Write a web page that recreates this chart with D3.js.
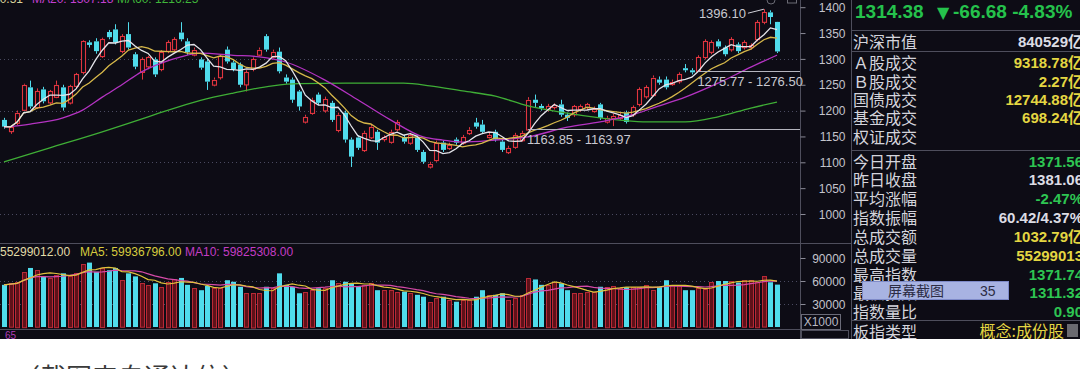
<!DOCTYPE html>
<html>
<head>
<meta charset="utf-8">
<script src="https://cdn.jsdelivr.net/npm/d3@7/dist/d3.min.js"></script>
<style>
html,body{margin:0;padding:0;background:#ffffff;overflow:hidden;}
svg{display:block;}
</style>
</head>
<body>
<svg id="chart" width="1080" height="369"></svg>
<script>
// ---------------- DATA ----------------
const opens = [1182,1160,1177,1202,1245,1206,1241,1215,1227,1245,
1215,1247,1274,1332,1334,1305,1352,1357,1315,1348,
1309,1274,1285,1299,1280,1315,1318,1351,1334,1309,
1299,1295,1251,1264,1318,1293,1289,1250,1280,1309,
1344,1305,1314,1264,1260,1237,1179,1196,1231,1200,
1215,1163,1196,1144,1148,1124,1149,1159,1144,1140,
1163,1149,1138,1148,1120,1092,1105,1138,1128,1144,
1138,1157,1177,1173,1149,1159,1140,1120,1130,1143,
1163.97,1221,1209,1202,1206,1212,1192,1192,1202,1206,
1200,1212,1179,1186,1186,1196,1192,1212,1227,1231,
1260,1260,1252,1256,1282,1278,1276.50,1303,1313,1334,
1322,1318,1328,1322,1322,1338,1371,1390,1371.56];
const closes = [1169,1168,1196,1250,1208,1237,1218,1237,1250,1206,
1247,1270,1334,1327,1315,1338,1342,1332,1344,1322,
1285,1299,1303,1270,1313,1332,1338,1338,1313,1318,
1283,1256,1260,1305,1295,1280,1250,1274,1299,1318,
1318,1314,1276,1256,1221,1208,1188,1221,1215,1222,
1182,1192,1144,1111,1128,1157,1169,1138,1148,1159,
1177,1140,1153,1124,1101,1097,1138,1124,1134,1138,
1149,1163,1169,1159,1153,1144,1124,1128,1153,1157,
1221,1215,1205,1208,1210,1192,1186,1208,1208,1212,
1204,1186,1186,1190,1192,1178,1206,1241,1245,1264,
1254,1245,1256,1270,1278,1274,1303,1334,1332,1324,
1309,1338,1315,1332,1326,1371,1390,1381.06,1314.38];
const highs = [1186,1172,1200,1252,1258,1243,1246,1240,1258,1250,
1250,1273,1336,1336,1340,1341,1356,1367,1348,1371,
1313,1303,1306,1303,1317,1336,1342,1371,1340,1322,
1303,1299,1264,1309,1324,1297,1293,1278,1303,1322,
1348,1318,1322,1270,1264,1240,1192,1225,1235,1227,
1219,1196,1200,1148,1152,1161,1173,1163,1152,1163,
1182,1153,1157,1152,1124,1101,1142,1142,1138,1148,
1153,1168,1186,1182,1157,1163,1144,1132,1157,1161,
1226,1231,1213,1213,1214,1221,1196,1211,1212,1215,
1208,1215,1190,1194,1196,1200,1210,1245,1249,1268,
1266,1266,1260,1274,1290,1282,1307,1338,1336,1338,
1326,1342,1332,1336,1330,1375,1396.10,1394,1371.74];
const lows = [1165,1155,1172,1200,1204,1203,1214,1212,1224,1200,
1212,1243,1270,1322,1310,1302,1338,1328,1311,1318,
1280,1260,1280,1265,1276,1311,1314,1334,1308,1305,
1279,1240,1247,1260,1291,1276,1245,1237,1276,1305,
1314,1301,1272,1252,1215,1200,1175,1192,1211,1196,
1178,1158,1138,1091,1124,1120,1145,1124,1140,1136,
1160,1136,1134,1120,1097,1088,1101,1120,1124,1134,
1134,1153,1165,1155,1146,1140,1120,1116,1126,1140,
1163.85,1207,1200,1198,1202,1188,1180,1188,1198,1202,
1196,1182,1175,1170,1182,1175,1188,1208,1223,1227,
1250,1241,1248,1252,1274,1270,1275.77,1299,1309,1320,
1305,1314,1311,1318,1318,1334,1367,1367,1311.32];
// volume in units of 1000 shares (axis is X1000)
const volumes = [55000,57000,59000,72000,77000,74000,66000,64000,68000,70000,
66500,70000,82000,84000,72000,77000,74000,77000,61000,70000,
66000,57000,55000,57000,52500,59000,62500,64000,55000,51000,
48000,53500,51000,51000,61000,59000,52500,44000,45000,44000,
52500,51000,70000,55000,52500,44000,46000,48000,50500,50500,
61000,57000,59000,57000,52500,55000,57000,48000,48000,48000,
46000,46000,45000,42000,39500,33000,38000,39500,35000,33000,
35000,35000,39500,48000,42000,42000,44000,35000,37500,42000,
63500,62000,55000,55000,59000,57000,48000,44000,44000,46000,
46000,52500,52500,53500,50500,52000,52000,52500,55000,48000,
52500,61000,55000,55000,48000,48000,50500,49000,59000,60000,
60000,59500,58000,61000,61000,59000,66000,58400,55299];
// MA20 / MA60 lines (day index, value)
const ma20Day = [0,4,9,12,15,18,21,24,27,30,35,39,43,49,54,59,64,67,70,75,80,86,91,96,99,104,109,114,118];
const ma20Val = [1168,1174,1186,1201,1226,1250,1275,1292,1304,1311,1307,1304,1294,1259,1221,1182,1149,1143,1139,1143,1149,1168,1178,1192,1205,1226,1253,1284,1307.18];
const ma60Day = [0,7,15,22,30,35,41,45,54,61,65,70,75,80,85,91,99,104,109,114,118];
const ma60Val = [1101,1128,1159,1188,1220,1234,1248,1252,1253,1253,1248,1238,1228,1209,1197,1186,1178,1178,1188,1205,1216.25];

const priceTicks = [1400,1350,1300,1250,1200,1150,1100,1050,1000];
const priceGrid = [1300,1200,1100,1000];
const volTicks = [90000,60000,30000];
const volGrid = [60000,30000];

const priceLegend = ["MA10: 1340.51","MA20: 1307.18","MA60: 1216.25"];
const volLegend = ["55299012.00","MA5: 59936796.00","MA10: 59825308.00"];

const lastPrice = "1314.38", change = "-66.68", changePct = "-4.83%";
const panelLabels = ["沪深市值","Ａ股成交","Ｂ股成交","国债成交","基金成交","权证成交","今日开盘","昨日收盘","平均涨幅","指数振幅","总成交额","总成交量","最高指数","最低指数","指数量比","板指类型"];
const panelValues = ["840529亿","9318.78亿","2.27亿","12744.88亿","698.24亿","","1371.56","1381.06","-2.47%","60.42/4.37%","1032.79亿","55299013","1371.74","1311.32","0.90","概念:成份股"];
const panelKinds  = ["w","y","y","y","y","w","g","w","g","w","y","y","g","g","g","y"];
const popupTexts = ["屏幕截图","35"];
const caption = "（截图来自通达信）";

// ---------------- DRAW ----------------
const RED="#e0353f", CYAN="#50dcec", BG="#0d0c15";
const svg=d3.select("#chart");
svg.append("rect").attr("x",0).attr("y",0).attr("width",1080).attr("height",339).attr("fill",BG);
const defs=svg.append("defs");
defs.append("clipPath").attr("id","pclip").append("rect").attr("x",0).attr("y",0).attr("width",800).attr("height",243);
defs.append("clipPath").attr("id","vclip").append("rect").attr("x",0).attr("y",256).attr("width",800).attr("height",73);

const n=closes.length, days=d3.range(n);
const x=d3.scalePoint().domain(days).range([4,777]);
const y=d3.scaleLinear().domain([1000,1400]).range([214,7.2]);
const yv=d3.scaleLinear().domain([0,90000]).range([327,258]);
const px=i=>Math.round(x(i))+0.5;
const crisp=v=>Math.round(v)+0.5;

// gridlines
svg.append("g").selectAll("line").data(priceGrid).join("line")
  .attr("x1",0).attr("x2",800).attr("y1",d=>crisp(y(d))).attr("y2",d=>crisp(y(d)))
  .attr("stroke","#4a4a60").attr("stroke-dasharray","1,3");
svg.append("g").selectAll("line").data(volGrid).join("line")
  .attr("x1",0).attr("x2",800).attr("y1",d=>crisp(yv(d))).attr("y2",d=>crisp(yv(d)))
  .attr("stroke","#4a4a60").attr("stroke-dasharray","1,3");

// frame lines
const frame=svg.append("g").attr("stroke","#4e4e5c").attr("stroke-width",1);
frame.append("line").attr("x1",800.5).attr("x2",800.5).attr("y1",0).attr("y2",339);
frame.append("line").attr("x1",851.5).attr("x2",851.5).attr("y1",0).attr("y2",339);
frame.append("line").attr("x1",0).attr("x2",851).attr("y1",243.5).attr("y2",243.5);
frame.append("line").attr("x1",0).attr("x2",800).attr("y1",329.5).attr("y2",329.5);
[30.5,51.5,150.5,320.5].forEach(v=>frame.append("line").attr("x1",851).attr("x2",1080).attr("y1",v).attr("y2",v));

// axes
const fontNum="'Liberation Sans', Arial, sans-serif";
const pAxis=svg.append("g").attr("transform","translate(800.5,0)")
  .call(d3.axisRight(y).tickValues(priceTicks).tickSize(5).tickFormat(d3.format("d")));
const vAxis=svg.append("g").attr("transform","translate(800.5,0)")
  .call(d3.axisRight(yv).tickValues(volTicks).tickSize(5).tickFormat(d3.format("d")));
[pAxis,vAxis].forEach(g=>{
  g.select(".domain").remove();
  g.selectAll(".tick line").attr("stroke","#8a8a96");
  g.selectAll(".tick text").attr("x",45).attr("dy","0.35em").attr("text-anchor","end")
    .attr("fill","#c4c4cc").style("font-family",fontNum).style("font-size","12px");
});
svg.append("rect").attr("x",801.5).attr("y",314.5).attr("width",39).attr("height",15).attr("fill","none").attr("stroke","#6a6a78");
svg.append("text").attr("x",821).attr("y",326).attr("text-anchor","middle").attr("fill","#b8b8c2")
  .style("font-family",fontNum).style("font-size","12px").text("X1000");
svg.append("rect").attr("x",801.5).attr("y",330.5).attr("width",47).attr("height",8).attr("fill","none").attr("stroke","#4e4e5c");

// candles
const up=i=>closes[i]>=opens[i];
const bw=5;
const cg=svg.append("g").attr("clip-path","url(#pclip)");
const cand=cg.selectAll("g.c").data(days).join("g").attr("class","c");
cand.append("line").attr("x1",px).attr("x2",px)
  .attr("y1",i=>y(highs[i])).attr("y2",i=>y(Math.max(opens[i],closes[i])))
  .attr("stroke",i=>up(i)?RED:CYAN);
cand.append("line").attr("x1",px).attr("x2",px)
  .attr("y1",i=>y(Math.min(opens[i],closes[i]))).attr("y2",i=>y(lows[i]))
  .attr("stroke",i=>up(i)?RED:CYAN);
cand.append("rect")
  .attr("x",i=>up(i)?px(i)-2:px(i)-2.5)
  .attr("y",i=>{const t=y(Math.max(opens[i],closes[i]));return up(i)?Math.round(t)+0.5:t;})
  .attr("width",i=>up(i)?bw-1:bw)
  .attr("height",i=>Math.max(1,Math.abs(y(opens[i])-y(closes[i]))))
  .attr("fill",i=>up(i)?BG:CYAN)
  .attr("stroke",i=>up(i)?RED:"none").attr("stroke-width",1.1);

// moving averages
const movAvg=(arr,k)=>arr.map((_,i)=>d3.mean(arr.slice(Math.max(0,i-k+1),i+1)));
const ma5=movAvg(closes,5), ma10=movAvg(closes,10);
const lineIdx=d3.line().x(d=>x(d[0])).y(d=>y(d[1]));
const lineCurve=d3.line().x(d=>x(d[0])).y(d=>y(d[1])).curve(d3.curveMonotoneX);
const mg=svg.append("g").attr("clip-path","url(#pclip)").attr("fill","none").attr("stroke-width",1.3);
mg.append("path").attr("d",lineCurve(ma60Day.map((d,i)=>[d,ma60Val[i]]))).attr("stroke","#3fae36");
mg.append("path").attr("d",lineCurve(ma20Day.map((d,i)=>[d,ma20Val[i]]))).attr("stroke","#b433c2");
mg.append("path").attr("d",lineIdx(days.map(i=>[i,ma10[i]]))).attr("stroke","#d6b84a");
mg.append("path").attr("d",lineIdx(days.map(i=>[i,ma5[i]]))).attr("stroke","#e4e4ea");

// annotations
const fmt=d3.format(".2f");
const ag=svg.append("g").style("font-family",fontNum).style("font-size","13px").attr("fill","#c8c8d0");
const hl=[[80,lows[80],opens[80]],[106,lows[106],opens[106]]];
hl.forEach(([i,a,b])=>{
  const yy=crisp(y((a+b)/2));
  ag.append("line").attr("x1",x(i)).attr("x2",800).attr("y1",yy).attr("y2",yy).attr("stroke","#b4b4be");
  ag.append("text").attr("x",x(i)-1).attr("y",yy+14).text(fmt(a)+" - "+fmt(b));
});
const hiIdx=d3.maxIndex(highs);
ag.append("text").attr("x",x(hiIdx)-18).attr("y",y(highs[hiIdx])+9).attr("text-anchor","end").text(fmt(highs[hiIdx]));
ag.append("line").attr("x1",x(hiIdx)-16).attr("y1",y(highs[hiIdx])+4).attr("x2",x(hiIdx)).attr("y2",y(highs[hiIdx]))
  .attr("stroke","#d0d0d8");

// top legend (cut off at top)
const legColors=["#d9d29a","#c23fcf","#3fb63a"];
const lg=svg.append("g").style("font-family",fontNum).style("font-size","12px");
lg.append("text").attr("x",23).attr("y",3).attr("text-anchor","end").attr("fill",legColors[0]).text(priceLegend[0]);
lg.append("text").attr("x",32).attr("y",3).attr("fill",legColors[1]).text(priceLegend[1]);
lg.append("text").attr("x",117).attr("y",3).attr("fill",legColors[2]).text(priceLegend[2]);
// small icons top right of plot
svg.append("circle").attr("cx",771).attr("cy",0).attr("r",4).attr("fill","none").attr("stroke","#6a6a74");
svg.append("rect").attr("x",787.5).attr("y",-4).attr("width",9).attr("height",7).attr("fill","none").attr("stroke","#6a6a74");

// volume bars
const vg=svg.append("g").attr("clip-path","url(#vclip)");
vg.selectAll("rect").data(days).join("rect")
  .attr("x",i=>up(i)?px(i)-2:px(i)-2.5)
  .attr("y",i=>up(i)?Math.round(yv(volumes[i]))+0.5:yv(volumes[i]))
  .attr("width",i=>up(i)?bw-1:bw)
  .attr("height",i=>yv(0)-yv(volumes[i]))
  .attr("fill",i=>up(i)?"#5e1119":CYAN)
  .attr("stroke",i=>up(i)?"#b82936":"none");
const lineV=d3.line().x(d=>x(d[0])).y(d=>yv(d[1]));
const vma5=movAvg(volumes,5), vma10=movAvg(volumes,10);
const vmg=svg.append("g").attr("clip-path","url(#vclip)").attr("fill","none").attr("stroke-width",1.2);
vmg.append("path").attr("d",lineV(days.map(i=>[i,vma10[i]]))).attr("stroke","#d64aa8");
vmg.append("path").attr("d",lineV(days.map(i=>[i,vma5[i]]))).attr("stroke","#e0c23c");

// volume legend
const vl=svg.append("g").style("font-family",fontNum).style("font-size","12px");
vl.append("text").attr("x",0).attr("y",256).attr("fill","#e2dca8").text(volLegend[0]);
vl.append("text").attr("x",80).attr("y",256).attr("fill","#d8cc3e").text(volLegend[1]);
vl.append("text").attr("x",185).attr("y",256).attr("fill","#c43cc4").text(volLegend[2]);
svg.append("text").attr("x",5).attr("y",339).attr("fill","#b03cb8").style("font-family",fontNum).style("font-size","10px").text("65");

// right panel
const green="#25c24c", yellow="#e4d642", white="#dcdce4";
const kindColor={w:white,y:yellow,g:"#2ec552"};
const rp=svg.append("g");
rp.append("text").attr("x",855).attr("y",18).attr("fill",green).style("font-family",fontNum)
  .style("font-size","19px").style("font-weight","bold").text(lastPrice);
rp.append("text").attr("x",937).attr("y",18).attr("fill",green).style("font-family","'DejaVu Sans', "+fontNum)
  .style("font-size","16px").text("▼");
rp.append("text").attr("x",953).attr("y",18).attr("fill",green).style("font-family",fontNum)
  .style("font-size","19px").style("font-weight","bold").text(change+" "+changePct);
const rowY=[48,69,88,106,124,143,168,186,205,224,243,262,281,299,318,338];
const cjk="'Noto Sans CJK SC','Noto Sans CJK JP',sans-serif";
rp.selectAll("text.lab").data(panelLabels).join("text").attr("class","lab")
  .attr("x",853).attr("y",(d,i)=>rowY[i]).attr("fill","#d4d4dc")
  .style("font-family",cjk).style("font-size","16px").text(d=>d);
rp.selectAll("text.val").data(panelValues).join("text").attr("class","val")
  .attr("x",(d,i)=>i===15?1064:1083).attr("y",(d,i)=>rowY[i]-1).attr("text-anchor","end")
  .attr("fill",(d,i)=>kindColor[panelKinds[i]])
  .style("font-family",(d,i)=>i===15?cjk:fontNum+","+cjk)
  .style("font-size",(d,i)=>i===15?"16px":"15px")
  .style("font-weight",(d,i)=>i===15?"normal":"bold").text(d=>d);
rp.append("rect").attr("x",1067).attr("y",324).attr("width",11).attr("height",13).attr("fill","#6a6a70");
// popup
rp.append("rect").attr("x",862.5).attr("y",281.5).attr("width",146).attr("height",18).attr("fill","#a8b3e2").attr("stroke","#7e8ac8");
rp.append("text").attr("x",888).attr("y",296).attr("fill","#2c2c44").style("font-family",cjk).style("font-size","14px").text(popupTexts[0]);
rp.append("text").attr("x",980).attr("y",296).attr("fill","#2c2c44").style("font-family",fontNum).style("font-size","14px").text(popupTexts[1]);

// bottom caption
svg.append("rect").attr("x",0).attr("y",339).attr("width",1080).attr("height",30).attr("fill","#ffffff");
svg.append("text").attr("x",14).attr("y",387).attr("fill","#3a3a3a").style("font-family",cjk).style("font-size","26px").text(caption);
</script>
</body>
</html>
